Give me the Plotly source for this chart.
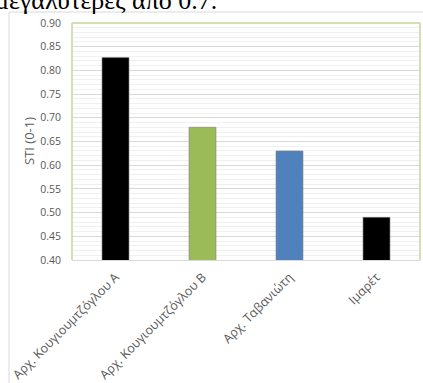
import plotly.graph_objects as go

categories = ["Αρχ. Κουγιουμτζόγλου Α", "Αρχ. Κουγιουμτζόγλου Β", "Αρχ. Ταβανιώτη", "Ιμαρέτ"]
sti_values = [0.827, 0.680, 0.630, 0.490]
bar_colors = ["#000000", "#9bbb59", "#4f81bd", "#000000"]
y_ticks = [0.40, 0.45, 0.50, 0.55, 0.60, 0.65, 0.70, 0.75, 0.80, 0.85, 0.90]

W, H = 423, 383
ML, MR, MT, MB = 72, 3, 23, 123
PW, PH = W - ML - MR, H - MT - MB

def px_x(px):
    return (px - ML) / PW

def px_y(py):
    return (H - MB - py) / PH

fig = go.Figure()
fig.add_trace(go.Bar(
    x=categories, y=sti_values, base=0,
    marker=dict(color=bar_colors, line=dict(color="#7f7f7f", width=0.6)),
    width=0.31,
))

fig.update_layout(
    width=W, height=H,
    margin=dict(l=ML, r=MR, t=MT, b=MB, pad=0, autoexpand=False),
    paper_bgcolor="white", plot_bgcolor="white",
    showlegend=False,
    font=dict(family="Open Sans", color="#595959"),
)
fig.update_yaxes(
    range=[0.40, 0.90], tickvals=y_ticks, tickformat=".2f",
    showgrid=True, gridcolor="#d9d9d9", gridwidth=1,
    minor=dict(dtick=0.01, showgrid=True, gridcolor="#f0f0f0", gridwidth=1),
    ticks="", ticklabelstandoff=10,
    tickfont=dict(size=10.5, color="#595959"),
    zeroline=False, showline=False, automargin=False,
)
fig.update_xaxes(
    tickangle=-45, tickfont=dict(size=12.5, color="#595959"),
    showline=True, linecolor="#d9d9d9", linewidth=1,
    showgrid=False, ticks="", ticklabelstandoff=4, automargin=False,
)

shapes = [
    dict(type="line", xref="paper", yref="paper", x0=0, x1=0, y0=0, y1=1, line=dict(color="#c3d69b", width=1.5)),
    dict(type="line", xref="paper", yref="paper", x0=0, x1=1, y0=1, y1=1, line=dict(color="#c3d69b", width=1.5)),
    dict(type="line", xref="paper", yref="paper", x0=1, x1=1, y0=0, y1=1, line=dict(color="#c3d69b", width=1.5)),
    dict(type="line", xref="paper", yref="paper", x0=px_x(9), x1=px_x(423), y0=px_y(12), y1=px_y(12), line=dict(color="#d9d9d9", width=1)),
    dict(type="line", xref="paper", yref="paper", x0=px_x(9), x1=px_x(9), y0=px_y(12), y1=px_y(383), line=dict(color="#d9d9d9", width=1)),
]
fig.update_layout(shapes=shapes)

fig.add_annotation(
    text="STI (0-1)", xref="paper", yref="paper",
    x=px_x(29), y=px_y(141), textangle=-90, showarrow=False,
    xanchor="center", yanchor="middle",
    font=dict(size=13, color="#595959", family="Open Sans"),
)
fig.add_annotation(
    text="μεγαλύτερες από 0.7.", xref="paper", yref="paper",
    x=px_x(219), y=px_y(17), showarrow=False,
    xanchor="right", yanchor="bottom",
    font=dict(size=26, color="black", family="Liberation Serif"),
)

fig.write_html("out.html")
